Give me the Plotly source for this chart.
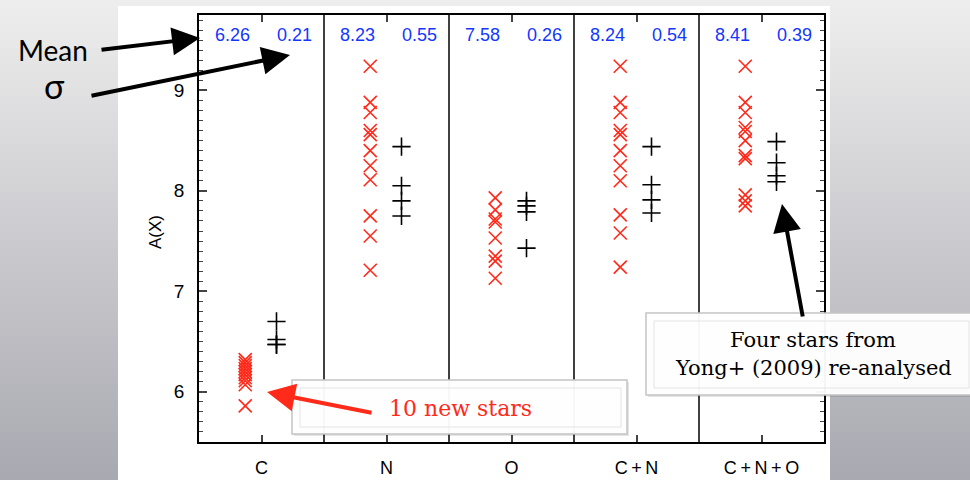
import plotly.graph_objects as go

# ---------------- data ----------------
categories = ["C", "N", "O", "C+N", "C+N+O"]
new_stars = [
    [6.32, 6.29, 6.26, 6.23, 6.20, 6.17, 6.14, 6.11, 6.07, 5.86],
    [9.24, 8.88, 8.78, 8.60, 8.56, 8.40, 8.25, 8.11, 7.75, 7.55, 7.21],
    [7.93, 7.81, 7.72, 7.69, 7.53, 7.35, 7.30, 7.13],
    [9.24, 8.88, 8.78, 8.60, 8.56, 8.40, 8.25, 8.10, 7.76, 7.58, 7.24],
    [9.24, 8.88, 8.78, 8.63, 8.59, 8.50, 8.35, 8.32, 7.96, 7.90, 7.85],
]
yong_stars = [
    [6.70, 6.52, 6.47, 6.47],
    [8.44, 8.05, 7.90, 7.75],
    [7.90, 7.85, 7.79, 7.43],
    [8.44, 8.06, 7.91, 7.78],
    [8.49, 8.28, 8.15, 8.09],
]
mean_labels = ["6.26", "8.23", "7.58", "8.24", "8.41"]
sigma_labels = ["0.21", "0.55", "0.26", "0.54", "0.39"]
y_ticks = [6, 7, 8, 9]

# ---------------- geometry helpers ----------------
W, H = 970, 480
L, R, T, B = 199, 824, 15, 442


def px(x):
    return (x - L) / (R - L)


def py(y):
    return (B - y) / (B - T)


RED = "#ff2a1a"
BLUE = "#1436ff"
SANS = "Liberation Sans, Arial, sans-serif"
SERIF = "DejaVu Serif, serif"
THIN = "\u2009"

fig = go.Figure()

rx, ry = [], []
bx, by = [], []
for i, cat in enumerate(categories):
    for v in new_stars[i]:
        rx.append(i + 1 - 0.13)
        ry.append(v)
    for v in yong_stars[i]:
        bx.append(i + 1 + 0.12)
        by.append(v)

fig.add_trace(go.Scatter(
    x=rx, y=ry, mode="markers",
    marker=dict(symbol="x-thin-open", size=13, color=RED,
                line=dict(color=RED, width=1.6)),
    showlegend=False, hoverinfo="skip"))
fig.add_trace(go.Scatter(
    x=bx, y=by, mode="markers",
    marker=dict(symbol="cross-thin-open", size=13, color="black",
                line=dict(color="black", width=1.6)),
    showlegend=False, hoverinfo="skip"))

shapes = []
# gradient background (bands)
nb = 60
for k in range(nb):
    t = (k + 0.5) / nb
    g = int(round(238 - 70 * t))
    b_ = int(round(238 - 62 * t))
    y0 = k * H / nb
    y1 = (k + 1) * H / nb + 0.5
    shapes.append(dict(type="rect", xref="paper", yref="paper", layer="below",
                       x0=px(0), x1=px(W), y0=py(y1), y1=py(y0),
                       fillcolor=f"rgb({g},{g},{b_})", line=dict(width=0)))
# white panel
shapes.append(dict(type="rect", xref="paper", yref="paper", layer="below",
                   x0=px(118), x1=px(830), y0=py(481), y1=py(6),
                   fillcolor="white", line=dict(width=0)))
# dividers between categories
for i in range(len(categories) - 1):
    shapes.append(dict(type="line", xref="x", yref="paper", layer="below",
                       x0=i + 1.5, x1=i + 1.5, y0=0, y1=1,
                       line=dict(color="black", width=1.5)))


def box(x0, y0, x1, y1):
    out = []
    out.append(dict(type="rect", xref="paper", yref="paper", layer="above",
                    x0=px(x0 + 2), x1=px(x1 + 2), y0=py(y1 + 2), y1=py(y0 + 2),
                    fillcolor="rgba(0,0,0,0.10)", line=dict(width=0)))
    out.append(dict(type="rect", xref="paper", yref="paper", layer="above",
                    x0=px(x0), x1=px(x1), y0=py(y1), y1=py(y0),
                    fillcolor="rgba(255,255,255,0.96)",
                    line=dict(color="#c4c4c4", width=1.5)))
    out.append(dict(type="rect", xref="paper", yref="paper", layer="above",
                    x0=px(x0 + 8), x1=px(x1 - 6), y0=py(y1 - 7), y1=py(y0 + 8),
                    fillcolor="rgba(0,0,0,0)",
                    line=dict(color="#e4e4e4", width=1)))
    return out


shapes += box(292, 380, 627, 434)
shapes += box(646, 313, 975, 395)

annotations = []


def label(x, y, text, size, color, family, xref="paper", angle=0):
    return dict(x=x, y=y, xref=xref, yref="paper", text=text, showarrow=False,
                xanchor="center", yanchor="middle", textangle=angle,
                font=dict(family=family, size=size, color=color))


for i, cat in enumerate(categories):
    annotations.append(label(i + 1 - 0.232, py(35), mean_labels[i], 18, BLUE, SANS, xref="x"))
    annotations.append(label(i + 1 + 0.264, py(35), sigma_labels[i], 18, BLUE, SANS, xref="x"))

annotations.append(label(px(155), py(232), "A(X)", 17, "black", SANS, angle=-90))
annotations.append(label(px(53), py(50), "Mean", 28, "black", "Lato, sans-serif"))
annotations.append(label(px(54), py(86), "σ", 34, "black", "Lato, sans-serif"))


def arrow(tip, tail, color):
    return dict(x=px(tip[0]), y=py(tip[1]), xref="paper", yref="paper",
                ax=tail[0] - tip[0], ay=tail[1] - tip[1],
                text="", showarrow=True, arrowhead=2, arrowsize=1.4,
                arrowwidth=4, arrowcolor=color, standoff=0, startstandoff=0)


annotations.append(arrow((200, 38), (100, 50), "black"))
annotations.append(arrow((290, 55), (90, 96), "black"))
annotations.append(arrow((267, 392), (373, 413), RED))
annotations.append(arrow((782, 204), (803, 318), "black"))

annotations.append(label(px(460), py(408), "10 new stars", 22, RED, SERIF))
annotations.append(label(px(813), py(340), "Four stars from", 21, "black", SERIF))
annotations.append(label(px(813), py(368), "Yong+ (2009) re-analysed", 21, "black", SERIF))

fig.update_layout(
    width=W, height=H,
    margin=dict(l=L, r=W - R, t=T, b=H - B, pad=0, autoexpand=False),
    paper_bgcolor="#d0d0d4",
    plot_bgcolor="rgba(0,0,0,0)",
    shapes=shapes,
    annotations=annotations,
    xaxis=dict(range=[0.5, 5.5], tickmode="array",
               tickvals=list(range(1, len(categories) + 1)),
               ticktext=[THIN.join(c) for c in categories],
               ticks="inside", ticklen=7, tickwidth=1.5,
               showline=True, linewidth=1.5, linecolor="black", mirror="ticks",
               showgrid=False, zeroline=False, ticklabelstandoff=9,
               automargin=False,
               tickfont=dict(family=SANS, size=18, color="black")),
    yaxis=dict(range=[5.5, 9.75], tickmode="array", tickvals=y_ticks,
               ticks="inside", ticklen=8, tickwidth=1.5,
               minor=dict(dtick=0.1, ticks="inside", ticklen=4, tickwidth=1.2,
                          showgrid=False),
               showline=True, linewidth=1.5, linecolor="black", mirror="ticks",
               showgrid=False, zeroline=False, ticklabelstandoff=9,
               automargin=False,
               tickfont=dict(family=SANS, size=19, color="black")),
)

fig.write_html("out.html")
